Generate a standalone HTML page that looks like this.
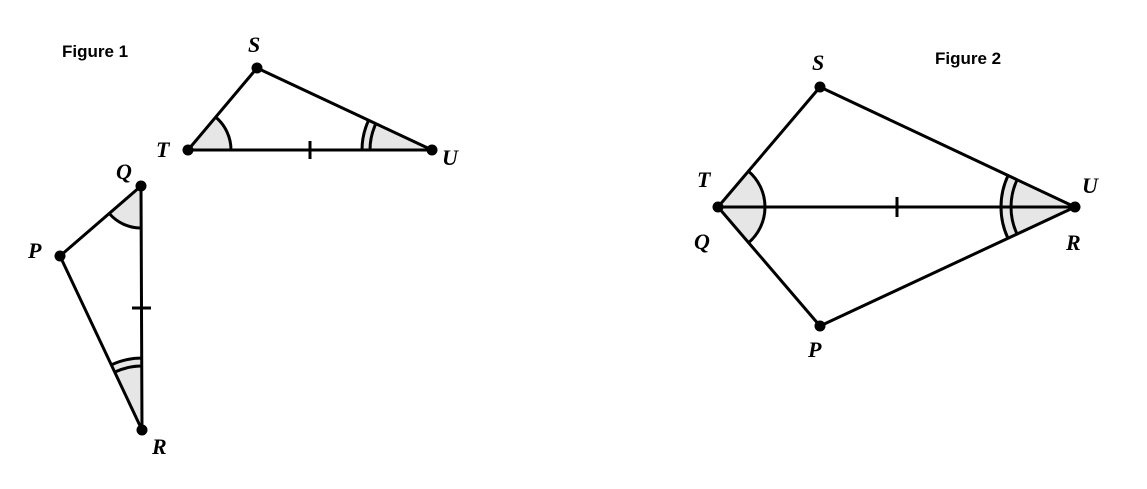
<!DOCTYPE html>
<html><head><meta charset="utf-8"><style>
html,body{margin:0;padding:0;background:#fff;}
svg{display:block}
.l{font-family:"Liberation Serif",serif;font-style:italic;font-weight:bold;font-size:22px}
.f{font-family:"Liberation Sans",sans-serif;font-weight:bold;font-size:17px}
</style></head><body>
<svg id="s" width="1147" height="489" viewBox="0 0 1147 489" xmlns="http://www.w3.org/2000/svg">
<g id="arcs"></g>
<g stroke="#000" stroke-width="3" fill="none" stroke-linejoin="round">
<polygon points="257,68 188,150 432,150"/>
<polygon points="141,186 60,256 142,430"/>
<polygon points="820,87 718,207 820,326 1075,207"/>
<line x1="718" y1="207" x2="1075" y2="207"/>
<line x1="310" y1="141" x2="310" y2="159"/>
<line x1="132" y1="308" x2="151" y2="308"/>
<line x1="897" y1="197" x2="897" y2="217"/>
</g>
<g fill="#000">
<circle cx="257" cy="68" r="5.5"/><circle cx="188" cy="150" r="5.5"/><circle cx="432" cy="150" r="5.5"/>
<circle cx="141" cy="186" r="5.5"/><circle cx="60" cy="256" r="5.5"/><circle cx="142" cy="430" r="5.5"/>
<circle cx="820" cy="87" r="5.5"/><circle cx="718" cy="207" r="5.5"/><circle cx="1075" cy="207" r="5.5"/><circle cx="820" cy="326" r="5.5"/>
</g>
<text class="f" x="62" y="57">Figure 1</text>
<text class="f" x="935" y="64">Figure 2</text>
<text class="l" x="248" y="52">S</text>
<text class="l" x="156" y="157">T</text>
<text class="l" x="442" y="165">U</text>
<text class="l" x="116" y="179">Q</text>
<text class="l" x="28" y="258">P</text>
<text class="l" x="152" y="454">R</text>
<text class="l" x="812" y="70">S</text>
<text class="l" x="697" y="187">T</text>
<text class="l" x="1082" y="193">U</text>
<text class="l" x="694" y="249">Q</text>
<text class="l" x="1066" y="250">R</text>
<text class="l" x="808" y="357">P</text>
</svg>
<script>
var g=document.getElementById('arcs'),NS='http://www.w3.org/2000/svg';
function arc(cx,cy,r,a1,a2,fill){
 var r1=a1*Math.PI/180,r2=a2*Math.PI/180;
 var x1=cx+r*Math.cos(r1),y1=cy+r*Math.sin(r1),x2=cx+r*Math.cos(r2),y2=cy+r*Math.sin(r2);
 if(fill){var p=document.createElementNS(NS,'path');
  p.setAttribute('d','M'+cx+','+cy+' L'+x1+','+y1+' A'+r+','+r+' 0 0 1 '+x2+','+y2+' Z');
  p.setAttribute('fill','#e6e6e6');g.appendChild(p);}
 var q=document.createElementNS(NS,'path');
 q.setAttribute('d','M'+x1+','+y1+' A'+r+','+r+' 0 0 1 '+x2+','+y2);
 q.setAttribute('fill','none');q.setAttribute('stroke','#000');q.setAttribute('stroke-width','3');g.appendChild(q);
}
arc(188,150,43,-50,0,1);
arc(432,150,70,180,205,1);arc(432,150,62,180,205,0);
arc(141,186,42,90,139,1);
arc(142,430,72,245,270,1);arc(142,430,64,245,270,0);
arc(718,207,47,-50,49.5,1);
arc(1075,207,74,155,205.2,1);arc(1075,207,64,155,205.2,0);
</script>
</body></html>
